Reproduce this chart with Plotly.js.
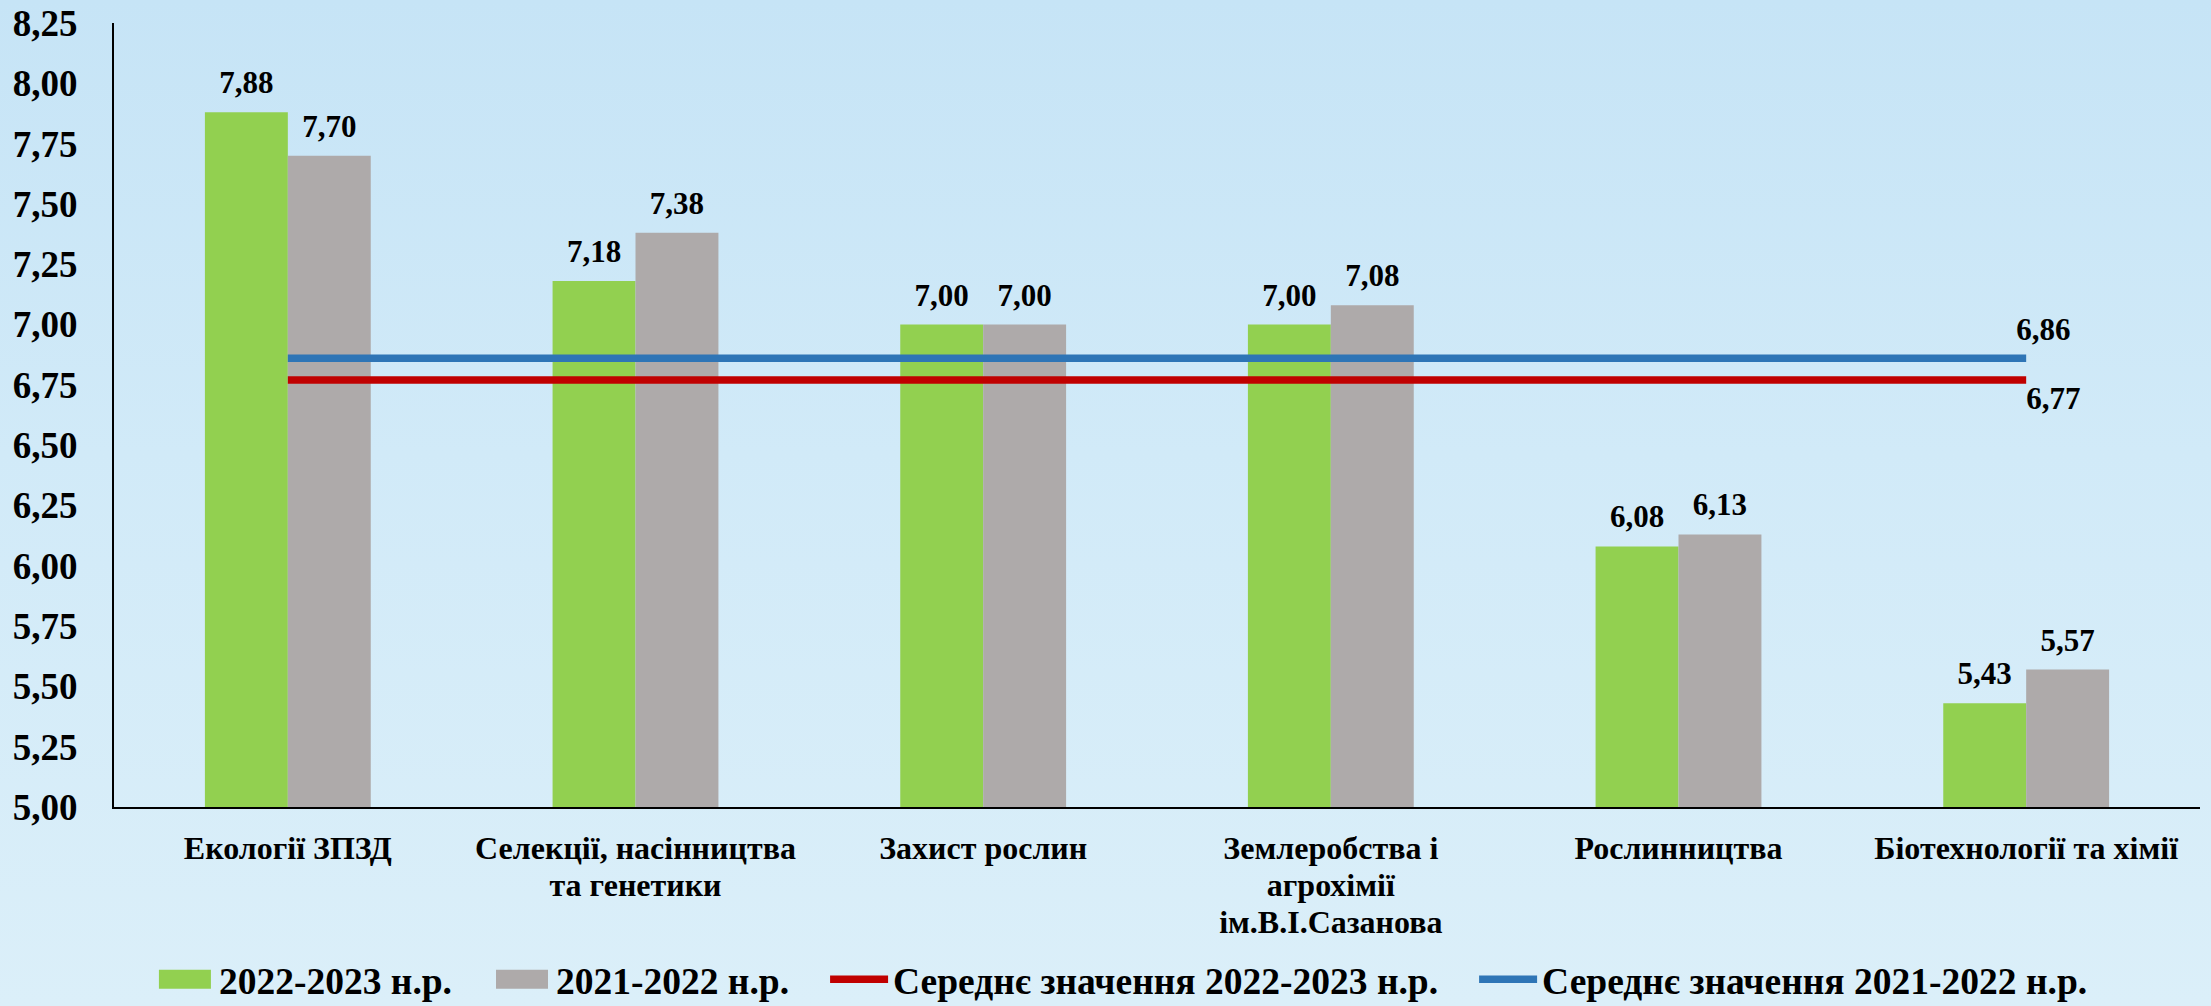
<!DOCTYPE html>
<html>
<head>
<meta charset="utf-8">
<script src="https://cdn.plot.ly/plotly-3.0.1.min.js"></script>
<style>
  html, body { margin: 0; padding: 0; width: 2211px; height: 1006px; overflow: hidden; }
  body { background: linear-gradient(180deg, #c6e4f6 0%, #d1eaf8 45%, #dbeff9 100%); }
  #chart { width: 2211px; height: 1006px; }
</style>
</head>
<body>
<div id="chart"></div>
<script>
const categories = [
  "Екології ЗПЗД",
  "Селекції, насінництва<br>та генетики",
  "Захист рослин",
  "Землеробства і<br>агрохімії<br>ім.В.І.Сазанова",
  "Рослинництва",
  "Біотехнології та хімії"
];
const values2223 = [7.88, 7.18, 7.00, 7.00, 6.08, 5.43];
const values2122 = [7.70, 7.38, 7.00, 7.08, 6.13, 5.57];
const avg2223 = [6.77, 6.77, 6.77, 6.77, 6.77, 6.77];
const avg2122 = [6.86, 6.86, 6.86, 6.86, 6.86, 6.86];
const seriesNames = ["2022-2023 н.р.", "2021-2022 н.р.", "Середнє значення 2022-2023 н.р.", "Середнє значення 2021-2022 н.р."];

const FONT = "Liberation Serif, Times New Roman, serif";
const lastOnly = arr => arr.map((v, i) => i === arr.length - 1 ? v.toFixed(2).replace('.', ',') : '');

const traces = [
  {
    type: 'bar', name: seriesNames[0], x: categories, y: values2223,
    marker: { color: '#92d050' },
    texttemplate: '%{y:.2f}', textposition: 'outside', cliponaxis: false,
    textfont: { family: FONT, size: 31, color: '#000', weight: 'bold' }
  },
  {
    type: 'bar', name: seriesNames[1], x: categories, y: values2122,
    marker: { color: '#aeaaaa' },
    texttemplate: '%{y:.2f}', textposition: 'outside', cliponaxis: false,
    textfont: { family: FONT, size: 31, color: '#000', weight: 'bold' }
  },
  {
    type: 'scatter', mode: 'lines+text', name: seriesNames[2], x: categories, y: avg2223,
    line: { color: '#c00000', width: 7.5 },
    text: lastOnly(avg2223), textposition: 'bottom right', cliponaxis: false,
    textfont: { family: FONT, size: 31, color: '#000', weight: 'bold' }
  },
  {
    type: 'scatter', mode: 'lines+text', name: seriesNames[3], x: categories, y: avg2122,
    line: { color: '#2e75b6', width: 7.5 },
    text: lastOnly(avg2122), textposition: 'top right', cliponaxis: false,
    textfont: { family: FONT, size: 31, color: '#000', weight: 'bold' }
  }
];

const layout = {
  width: 2211, height: 1006,
  paper_bgcolor: 'rgba(0,0,0,0)', plot_bgcolor: 'rgba(0,0,0,0)',
  separators: ', ',
  margin: { l: 114, r: 11, t: 23, b: 199, autoexpand: false },
  barmode: 'group', bargap: 0.523, bargroupgap: 0,
  font: { family: FONT, color: '#000', weight: 'bold' },
  xaxis: {
    type: 'category',
    showline: true, linecolor: '#000', linewidth: 2,
    showgrid: false, ticks: '',
    ticklabelstandoff: 12,
    tickfont: { family: FONT, size: 32, color: '#000', weight: 'bold' },
    automargin: false
  },
  yaxis: {
    range: [5, 8.25], dtick: 0.25, tick0: 5, tickformat: '.2f',
    showline: true, linecolor: '#000', linewidth: 2,
    showgrid: false, zeroline: false, ticks: '',
    ticklabelstandoff: 27,
    tickfont: { family: FONT, size: 37, color: '#000', weight: 'bold' },
    automargin: false
  },
  showlegend: true,
  legend: {
    orientation: 'h', x: 0.0177, xanchor: 'left', y: -0.22, yanchor: 'middle',
    font: { family: FONT, size: 37.5, color: '#000', weight: 'bold' },
    itemwidth: 58, traceorder: 'normal', bgcolor: 'rgba(0,0,0,0)'
  }
};

function addTranslate(el, dx, dy) {
  const t = el.getAttribute('transform') || '';
  el.setAttribute('transform', (t + ' translate(' + dx + ',' + dy + ')').trim());
}

Plotly.newPlot('chart', traces, layout, { displayModeBar: false, staticPlot: true }).then(() => {
  const root = document.getElementById('chart');
  // no clipping of the (widened) legend
  root.querySelectorAll('.legend [clip-path], .legend').forEach(el => el.removeAttribute('clip-path'));
  // rectangular bar swatches in the legend
  root.querySelectorAll('.legend .legendpoints path').forEach(p => {
    const d = p.getAttribute('d') || '';
    if (/^M6,6H-6V-6H6Z$/.test(d)) p.setAttribute('d', 'M26,9.5H-26V-9.5H26Z');
  });
  // wider spacing between legend entries
  root.querySelectorAll('.legend g.traces').forEach((g, i) => {
    const m = /translate\(([-\d.e]+)[ ,]+([-\d.e]+)\)/.exec(g.getAttribute('transform') || '');
    if (m) g.setAttribute('transform', 'translate(' + (parseFloat(m[1]) + i * 31) + ',' + m[2] + ')');
  });
  // bar value labels sit a little higher above the bars
  root.querySelectorAll('text.bartext').forEach(t => addTranslate(t, 0, -9));
  // mean-line end labels
  root.querySelectorAll('g.scatterlayer g.trace').forEach((tr, i) => {
    const dx = i === 0 ? 0 : -10;
    const dy = i === 0 ? 6 : -11;
    tr.querySelectorAll('g.textpoint text').forEach(t => addTranslate(t, dx, dy));
  });
  // tighter line spacing for multi-line category labels
  root.querySelectorAll('g.xtick text tspan.line').forEach(ts => {
    const dy = ts.getAttribute('dy');
    if (dy && /em$/.test(dy)) ts.setAttribute('dy', (parseFloat(dy) * 0.885) + 'em');
  });
});
</script>
</body>
</html>
